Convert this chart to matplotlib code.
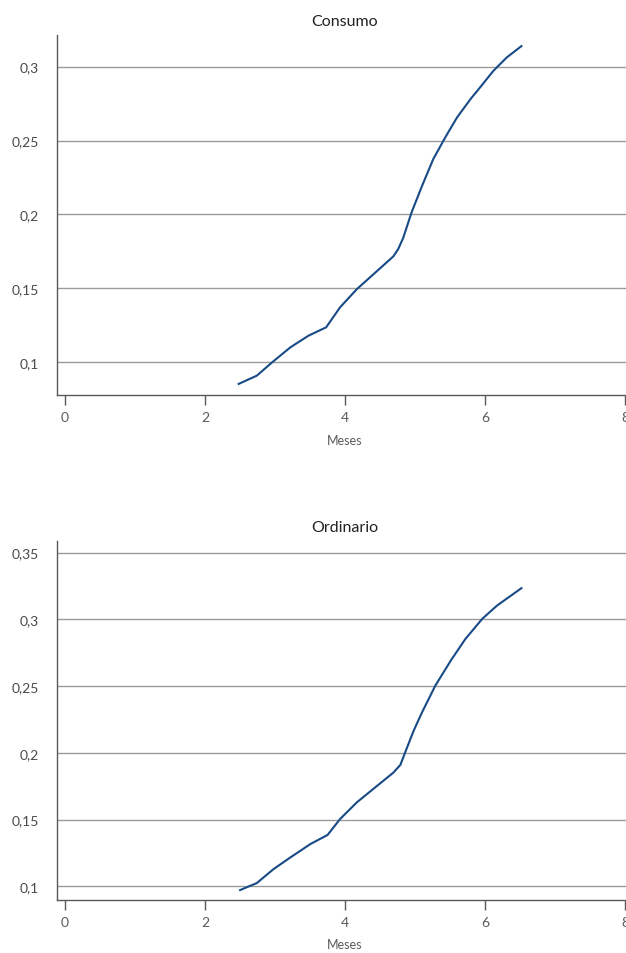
import matplotlib
matplotlib.use("Agg")
import matplotlib.pyplot as plt
from matplotlib.ticker import FuncFormatter
from matplotlib.transforms import blended_transform_factory

plt.rcParams['font.family'] = ['Lato', 'DejaVu Sans']

meses_consumo = [2.48, 2.74, 2.96, 3.22, 3.48, 3.73, 3.93, 4.17, 4.41, 4.69,
                 4.76, 4.83, 4.95, 5.10, 5.26, 5.43, 5.60, 5.79, 5.93, 6.12,
                 6.31, 6.52]
consumo = [0.0853, 0.0909, 0.100, 0.1101, 0.118, 0.1236, 0.1372, 0.1495,
           0.1597, 0.1716, 0.1766, 0.1840, 0.2013, 0.2193, 0.2374, 0.2520,
           0.2656, 0.2779, 0.2860, 0.2972, 0.3062, 0.3139]

meses_ordinario = [2.5, 2.74, 2.98, 3.22, 3.505, 3.75, 3.93, 4.17, 4.46, 4.69,
                   4.79, 4.86, 4.98, 5.10, 5.29, 5.51, 5.72, 5.96, 6.17, 6.52]
ordinario = [0.0972, 0.1025, 0.113, 0.1217, 0.1317, 0.1385, 0.1505, 0.163,
             0.1754, 0.1852, 0.191, 0.2005, 0.2166, 0.2304, 0.2504, 0.2691,
             0.2854, 0.3004, 0.3103, 0.3234]

titles = ["Consumo", "Ordinario"]
x_label = "Meses"
x_ticks = [0, 2, 4, 6, 8]
y_ticks_top = [0.1, 0.15, 0.2, 0.25, 0.3]
y_ticks_bot = [0.1, 0.15, 0.2, 0.25, 0.3, 0.35]

W, H = 626, 954
fig = plt.figure(figsize=(W / 100, H / 100), dpi=100)

line_color = "#174a86"
grid_color = "#9a9a9a"
spine_color = "#5a5a5a"
text_color = "#4a4a4a"
XMIN, XMAX = -0.12, 8.014


def fmt(v, pos):
    s = ("%.2f" % v).rstrip("0").rstrip(".")
    return s.replace(".", ",")


def make_axes(top_px, bottom_px, ylim, yticks, xs, ys, title):
    left_px = 56.7
    ax = fig.add_axes([left_px / W, 1 - bottom_px / H, 1 - left_px / W,
                       (bottom_px - top_px) / H])
    ax.plot(xs, ys, color=line_color, lw=1.5, zorder=3,
            solid_joinstyle="round")
    ax.set_xlim(XMIN, XMAX)
    ax.set_ylim(*ylim)
    ax.set_xticks(x_ticks)
    ax.set_yticks(yticks)
    ax.yaxis.set_major_formatter(FuncFormatter(fmt))
    ax.grid(axis="y", color=grid_color, lw=1.0, zorder=1)
    ax.set_axisbelow(True)
    for s in ["top", "right"]:
        ax.spines[s].set_visible(False)
    for s in ["left", "bottom"]:
        ax.spines[s].set_color(spine_color)
        ax.spines[s].set_linewidth(1.0)
    ax.tick_params(axis="y", length=0, pad=13, labelsize=10,
                   labelcolor=text_color)
    ax.tick_params(axis="x", length=7, width=1, color=spine_color,
                   pad=5, labelsize=10, labelcolor="#5a5a5a")
    xc = (4 - XMIN) / (XMAX - XMIN)
    ax.set_xlabel(x_label, fontsize=9, color="#5a5a5a")
    ax.xaxis.set_label_coords(xc, -0.108)
    tr = blended_transform_factory(ax.transData, ax.transAxes)
    ax.text(4, 1.0 + 14 / (bottom_px - top_px), title, transform=tr,
            ha="center", va="center", fontsize=11.5, color="#222222")
    return ax


make_axes(36, 395.7, (0.078, 0.3214), y_ticks_top,
          meses_consumo, consumo, titles[0])
make_axes(542.3, 900.7, (0.09, 0.3585), y_ticks_bot,
          meses_ordinario, ordinario, titles[1])

fig.savefig("out.png", dpi=100)
